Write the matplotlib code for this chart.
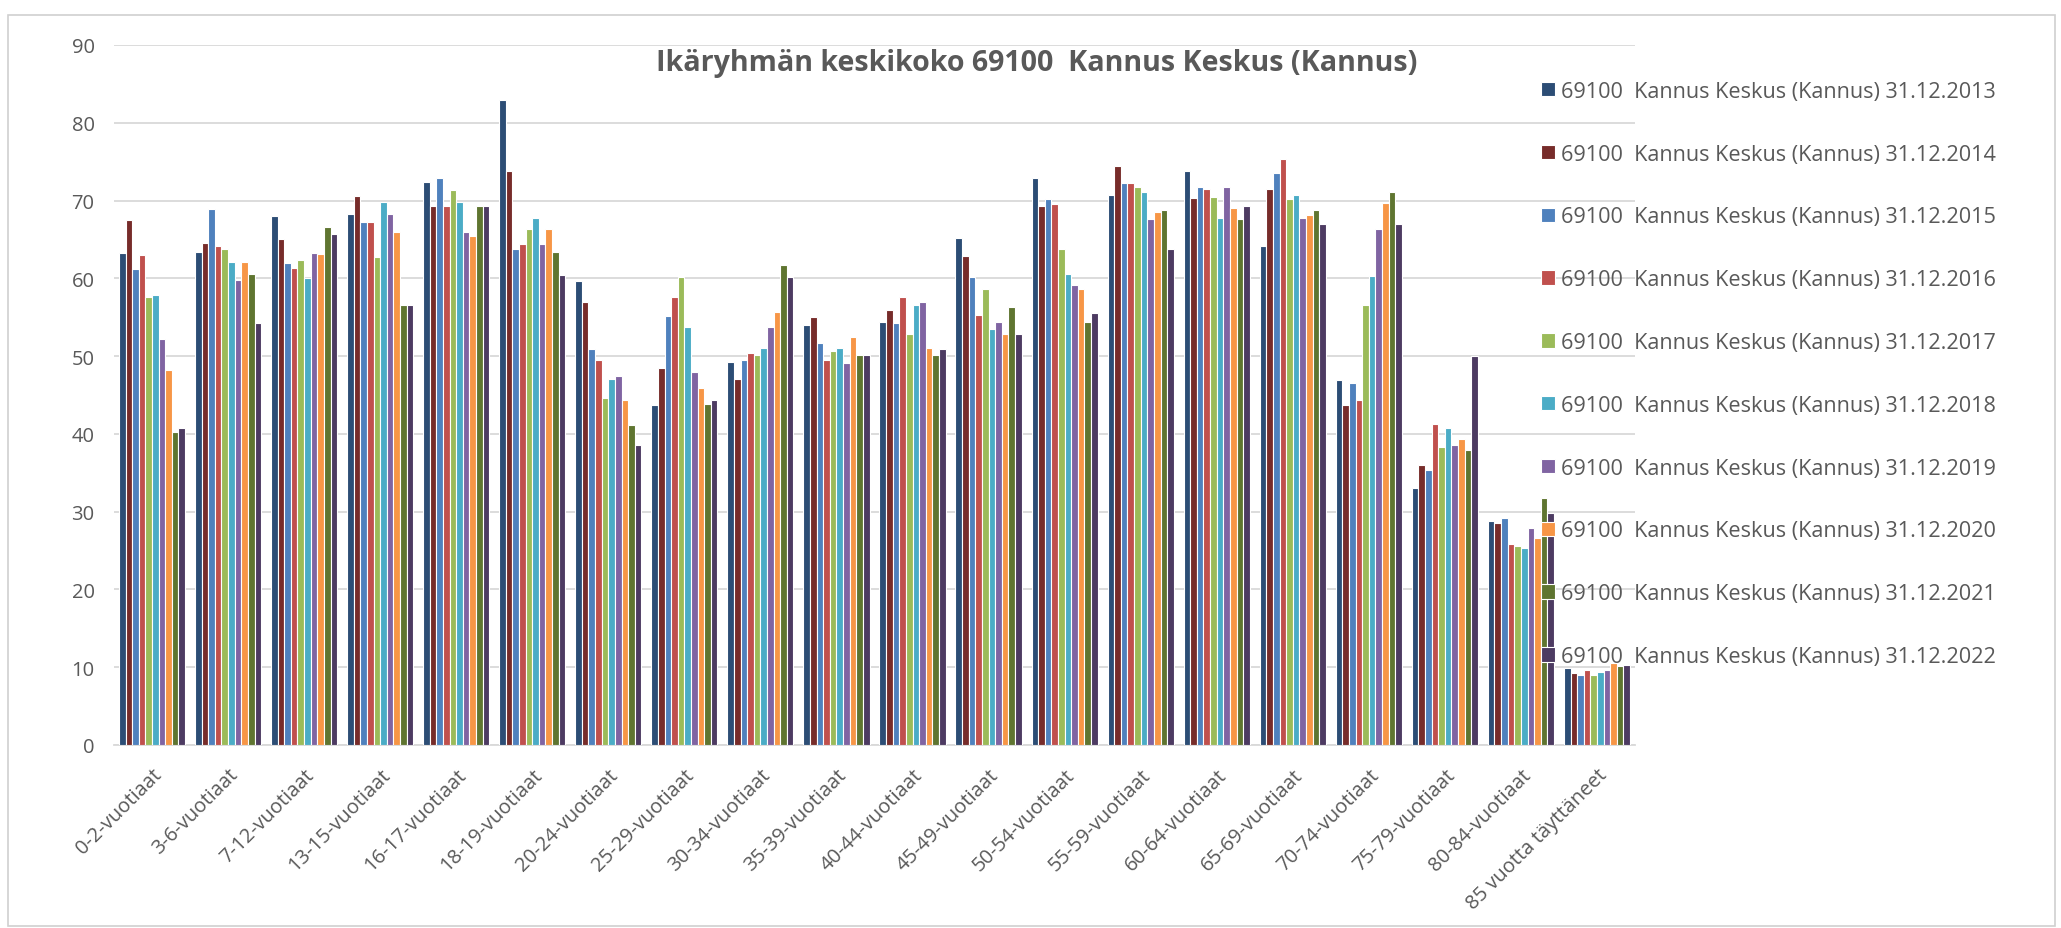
import matplotlib
matplotlib.use('Agg')
import matplotlib.pyplot as plt
import numpy as np
from matplotlib.patches import Rectangle

plt.rcParams['font.family'] = ['Open Sans', 'DejaVu Sans']

# Age groups on the x axis
categories = ['0-2-vuotiaat', '3-6-vuotiaat', '7-12-vuotiaat', '13-15-vuotiaat',
              '16-17-vuotiaat', '18-19-vuotiaat', '20-24-vuotiaat', '25-29-vuotiaat',
              '30-34-vuotiaat', '35-39-vuotiaat', '40-44-vuotiaat', '45-49-vuotiaat',
              '50-54-vuotiaat', '55-59-vuotiaat', '60-64-vuotiaat', '65-69-vuotiaat',
              '70-74-vuotiaat', '75-79-vuotiaat', '80-84-vuotiaat', '85 vuotta täyttäneet']

years = ['2013', '2014', '2015', '2016', '2017', '2018', '2019', '2020', '2021', '2022']

# one list per year, one value per age group
v2013 = [63.3, 63.4, 68.0, 68.3, 72.4, 82.9, 59.7, 43.7, 49.2, 54.0, 54.4, 65.2, 72.9, 70.7, 73.8, 64.1, 46.9, 33.1, 28.8, 9.9]
v2014 = [67.5, 64.6, 65.0, 70.6, 69.3, 73.8, 56.9, 48.5, 47.0, 55.0, 55.9, 62.9, 69.3, 74.4, 70.3, 71.5, 43.7, 36.0, 28.6, 9.3]
v2015 = [61.2, 68.9, 62.0, 67.2, 72.9, 63.8, 50.9, 55.1, 49.5, 51.7, 54.3, 60.2, 70.2, 72.2, 71.8, 73.6, 46.5, 35.4, 29.2, 9.0]
v2016 = [63.0, 64.1, 61.3, 67.2, 69.3, 64.4, 49.5, 57.6, 50.4, 49.5, 57.6, 55.3, 69.6, 72.2, 71.5, 75.4, 44.3, 41.3, 25.9, 9.6]
v2017 = [57.6, 63.8, 62.4, 62.8, 71.4, 66.4, 44.6, 60.2, 50.2, 50.6, 52.9, 58.6, 63.8, 71.7, 70.4, 70.2, 56.6, 38.3, 25.6, 9.0]
v2018 = [57.8, 62.1, 60.0, 69.8, 69.8, 67.8, 47.1, 53.8, 51.1, 51.1, 56.6, 53.5, 60.6, 71.1, 67.8, 70.7, 60.3, 40.8, 25.3, 9.4]
v2019 = [52.2, 59.8, 63.3, 68.3, 65.9, 64.4, 47.4, 48.0, 53.7, 49.1, 57.0, 54.4, 59.2, 67.6, 71.7, 67.8, 66.4, 38.6, 27.9, 9.7]
v2020 = [48.2, 62.1, 63.1, 65.9, 65.4, 66.4, 44.3, 45.9, 55.7, 52.5, 51.1, 52.9, 58.6, 68.5, 69.1, 68.2, 69.7, 39.3, 26.6, 10.6]
v2021 = [40.2, 60.6, 66.6, 56.6, 69.3, 63.4, 41.1, 43.8, 61.7, 50.2, 50.2, 56.3, 54.4, 68.8, 67.6, 68.8, 71.1, 37.9, 31.8, 10.2]
v2022 = [40.8, 54.3, 65.7, 56.6, 69.3, 60.4, 38.6, 44.3, 60.2, 50.2, 50.9, 52.9, 55.6, 63.8, 69.3, 67.0, 67.0, 50.0, 29.8, 10.3]

series = [v2013, v2014, v2015, v2016, v2017, v2018, v2019, v2020, v2021, v2022]
colors = ['#2C4D75', '#772C2A', '#4F81BD', '#C0504D', '#9BBB59',
          '#4BACC6', '#8064A2', '#F79646', '#5F7530', '#4D3B62']

text_col = '#595959'
grid_col = '#D9D9D9'

fig = plt.figure(figsize=(20.61, 9.29), dpi=100)
ax = fig.add_axes([0.0553, 0.197, 0.738, 0.7535])

x = np.arange(len(categories))
group_w = 0.87
bar_w = group_w / len(series)
for i, (vals, col, yr) in enumerate(zip(series, colors, years)):
    offs = -group_w / 2 + bar_w * (i + 0.5)
    ax.bar(x + offs, vals, width=bar_w, color=col, edgecolor='white', linewidth=0.8,
           label='69100  Kannus Keskus (Kannus) 31.12.' + yr, zorder=3)

ax.set_xlim(-0.5, len(categories) - 0.5)
ax.set_ylim(0, 90)
ax.set_yticks(range(0, 91, 10))
ax.grid(axis='y', color=grid_col, linewidth=1.3, zorder=0)
for s in ['top', 'right', 'left']:
    ax.spines[s].set_visible(False)
ax.spines['bottom'].set_color(grid_col)
ax.spines['bottom'].set_linewidth(1.3)
ax.tick_params(axis='both', length=0, colors=text_col, labelsize=14.5)
ax.tick_params(axis='y', pad=14)
ax.set_xticks(x)
ax.set_xticklabels(categories, rotation=45, ha='right', rotation_mode='anchor')
ax.tick_params(axis='x', pad=14)

fig.text(0.503, 0.932, 'Ikäryhmän keskikoko 69100  Kannus Keskus (Kannus)',
         ha='center', va='center', fontsize=20.6, fontweight='bold', color=text_col)

leg = fig.legend(loc='upper left', bbox_to_anchor=(0.738, 0.933), frameon=False,
                 fontsize=15.6, labelspacing=1.93, handlelength=0.65, handleheight=0.65,
                 handletextpad=0.3, labelcolor=text_col)

# thin outer frame of the chart area
fig.patches.append(Rectangle((8 / 2061, 1 - 927 / 929), 2047 / 2061, 911 / 929,
                             transform=fig.transFigure, fill=False,
                             edgecolor='#D0D0D0', linewidth=1.2))

fig.savefig('out.png', dpi=100)
